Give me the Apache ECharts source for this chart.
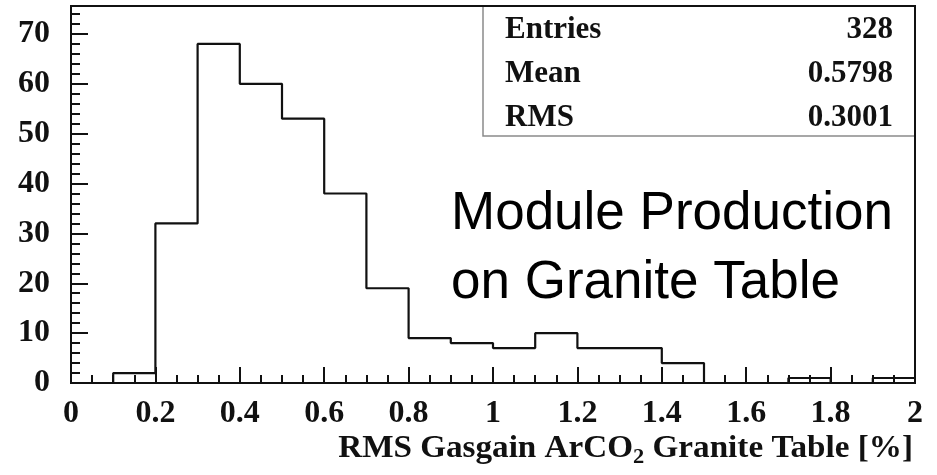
<!DOCTYPE html>
<html>
<head>
<meta charset="utf-8">
<script src="https://cdn.jsdelivr.net/npm/echarts@6/dist/echarts.min.js"></script>
<style>
html,body{margin:0;padding:0;background:#fff;}
#c{width:937px;height:475px;}
</style>
</head>
<body>
<div id="c"></div>
<script>
// Histogram bins (width 0.1) from 0 to 2
const binEdges = [0,0.1,0.2,0.3,0.4,0.5,0.6,0.7,0.8,0.9,1.0,1.1,1.2,1.3,1.4,1.5,1.6,1.7,1.8,1.9,2.0];
const counts   = [0,2,32,68,60,53,38,19,9,8,7,10,7,7,4,0,0,1,0,1];
const xTicks = [0,0.2,0.4,0.6,0.8,1,1.2,1.4,1.6,1.8,2];
const yTicks = [0,10,20,30,40,50,60,70];
const statsLabels = ['Entries','Mean','RMS'];
const statsValues = ['328','0.5798','0.3001'];
const xTitle = 'RMS Gasgain ArCO';
const annotation = ['Module Production','on Granite Table'];

// Step outline built from the bins
const outline = [];
for (let i = 0; i < counts.length; i++) {
  outline.push([binEdges[i], counts[i]]);
  outline.push([binEdges[i+1], counts[i]]);
}

const serif = '"Liberation Serif","Times New Roman",serif';
const chart = echarts.init(document.getElementById('c'));

const graphics = [];
// stats box
graphics.push({type:'rect', z:50, shape:{x:483, y:6, width:432, height:130},
  style:{fill:'#fff', stroke:'#8a8a8a', lineWidth:1.5}});
const rowY = [30, 73.5, 117.5];
statsLabels.forEach((t,i)=>{
  graphics.push({type:'text', z:51, x:505, y:rowY[i],
    style:{text:t, font:'bold 31px '+serif, fill:'#111', textAlign:'left', textVerticalAlign:'middle'}});
  graphics.push({type:'text', z:51, x:893, y:rowY[i],
    style:{text:statsValues[i], font:'bold 31px '+serif, fill:'#111', textAlign:'right', textVerticalAlign:'middle'}});
});
// axis title
graphics.push({type:'text', z:51, x:913, y:449, scaleX:1.07, scaleY:1,
  style:{text:'{a|'+xTitle+'}{s|2}{a| Granite Table [%]}', textAlign:'right', textVerticalAlign:'middle',
    rich:{a:{font:'bold 31px '+serif, fill:'#111'}, s:{font:'bold 21px '+serif, fill:'#111', padding:[18,0,0,0]}}}});
// annotation
annotation.forEach((t,i)=>{
  graphics.push({type:'text', z:51, x:451, y:[214,283][i],
    style:{text:t, font:'53px "Liberation Sans",Arial,sans-serif', fill:'#000', textAlign:'left', textVerticalAlign:'middle'}});
});

chart.setOption({
  animation:false,
  backgroundColor:'#fff',
  grid:{left:71, right:22, top:6, bottom:92, show:true, borderColor:'#111', borderWidth:2, backgroundColor:'transparent', z:60},
  xAxis:{type:'value', min:xTicks[0], max:xTicks[xTicks.length-1], interval:0.2,
    axisLine:{show:true, onZero:false, lineStyle:{color:'#111', width:2}},
    axisTick:{show:true, inside:true, length:16, lineStyle:{color:'#111', width:2}},
    minorTick:{show:true, splitNumber:4, length:8, lineStyle:{color:'#111', width:2}},
    splitLine:{show:false},
    axisLabel:{margin:15, fontSize:32, fontWeight:'bold', fontFamily:serif, color:'#111'}
  },
  yAxis:{type:'value', min:yTicks[0], max:75.6, interval:10,
    axisLine:{show:true, lineStyle:{color:'#111', width:2}},
    axisTick:{show:true, inside:true, length:17, lineStyle:{color:'#111', width:2}},
    minorTick:{show:true, splitNumber:5, length:9, lineStyle:{color:'#111', width:2}},
    splitLine:{show:false},
    axisLabel:{margin:21, fontSize:32, fontWeight:'bold', fontFamily:serif, color:'#111', showMaxLabel:false, padding:[5,0,0,0]}
  },
  series:[{type:'line', data:outline, symbol:'none', lineStyle:{color:'#111', width:2.2}, z:10}],
  graphic:graphics
});
</script>
</body>
</html>
